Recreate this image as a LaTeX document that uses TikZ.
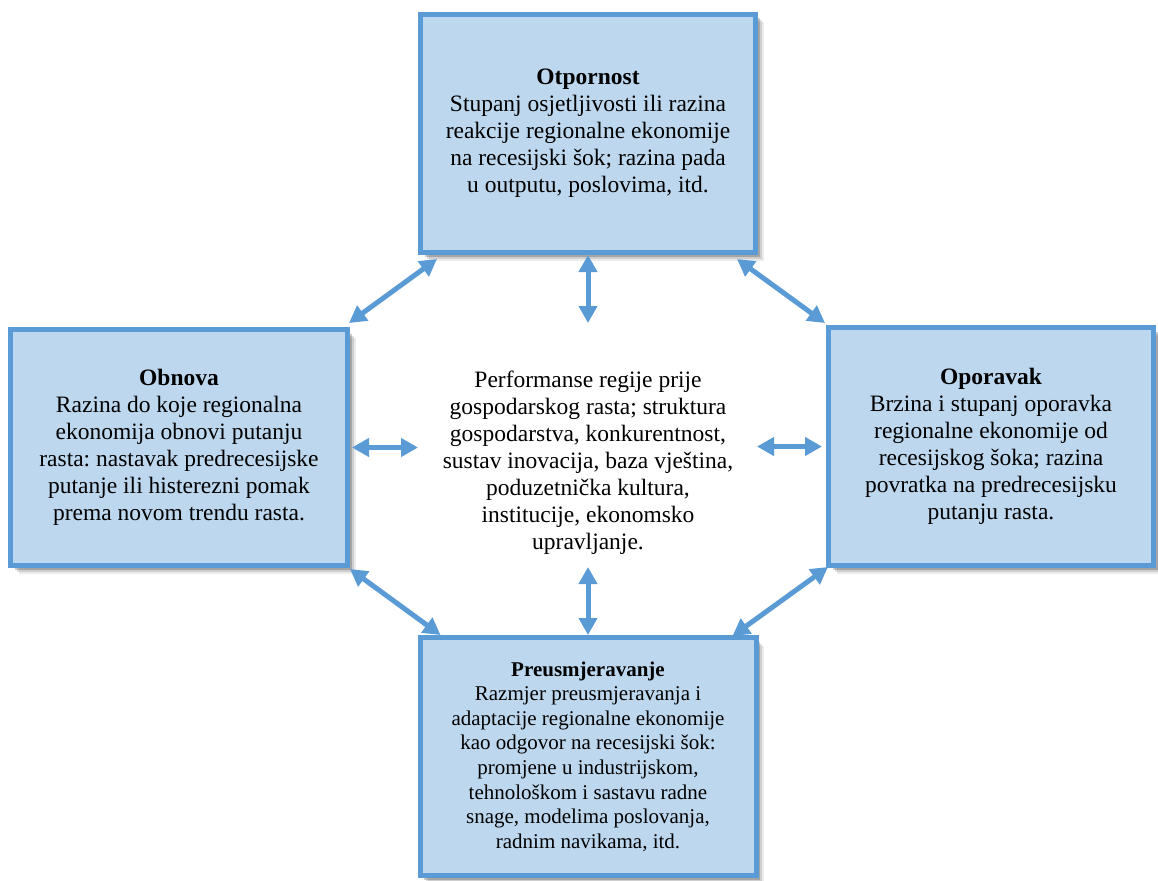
\documentclass[tikz,border=0pt]{standalone}
\usepackage{fontspec}
\setmainfont{Liberation Serif}
\usetikzlibrary{arrows.meta,shadows,calc}
\definecolor{bord}{HTML}{5B9BD5}
\definecolor{boxfill}{HTML}{BDD7EE}
\frenchspacing
\tikzset{
  box/.style={draw=bord, line width=5pt, fill=boxfill, align=center, inner sep=0pt,
    drop shadow={shadow xshift=8pt, shadow yshift=-8pt, opacity=.08, fill=black},
    drop shadow={shadow xshift=6pt, shadow yshift=-6pt, opacity=.12, fill=black},
    drop shadow={shadow xshift=4pt, shadow yshift=-4pt, opacity=.2, fill=black}},
  bigtxt/.style={font=\fontsize{23.5}{27}\selectfont},
  smalltxt/.style={font=\fontsize{21}{24.6}\selectfont},
  arr/.style={draw=bord, line width=5pt, {Triangle[length=17pt,width=18pt]}-{Triangle[length=17pt,width=18pt]}}
}
\begin{document}
\begin{tikzpicture}[x=1pt,y=-1pt]
\useasboundingbox (0,0) rectangle (1158,880);
\node[box, bigtxt, minimum width=335, minimum height=238] (top) at (588,133.5)
  {\textbf{Otpornost}\\Stupanj osjetljivosti ili razina\\reakcije regionalne ekonomije\\na recesijski šok; razina pada\\u outputu, poslovima, itd.};
\node[box, bigtxt, minimum width=337, minimum height=236] (left) at (179,447.5)
  {\textbf{Obnova}\\Razina do koje regionalna\\ekonomija obnovi putanju\\rasta: nastavak predrecesijske\\putanje ili histerezni pomak\\prema novom trendu rasta.};
\node[box, bigtxt, minimum width=325, minimum height=238] (right) at (991,446.5)
  {\textbf{Oporavak}\\Brzina i stupanj oporavka\\regionalne ekonomije od\\recesijskog šoka; razina\\povratka na predrecesijsku\\putanju rasta.};
\node[box, smalltxt, minimum width=336, minimum height=238] (bottom) at (588,756.5)
  {\textbf{Preusmjeravanje}\\Razmjer preusmjeravanja i\\adaptacije regionalne ekonomije\\kao odgovor na recesijski šok:\\promjene u industrijskom,\\tehnološkom i sastavu radne\\snage, modelima poslovanja,\\radnim navikama, itd.};
\node[align=center, font=\fontsize{23.5}{27}\selectfont, inner sep=0pt] (core) at (588,463)
  {Performanse regije prije\\gospodarskog rasta; struktura\\gospodarstva, konkurentnost,\\sustav inovacija, baza vještina,\\poduzetnička kultura,\\institucije, ekonomsko\\upravljanje.};
% vertical and horizontal connectors
\draw[arr] (top.south) -- ($(core.center)+(0,-140)$);
\draw[arr] ($(core.center)+(0,104)$) -- (bottom.north);
\draw[arr] ($(left.east)+(2,0)$) -- ($(core.center)+(-170,-15.5)$);
\draw[arr] ($(core.center)+(169,-16.5)$) -- ($(right.west)+(-4,0)$);
% diagonal connectors
\draw[arr] ($(top.south west)+(19,4)$) -- ($(left.north east)+(-1,-4)$);
\draw[arr] ($(top.south east)+(-21,4)$) -- ($(right.north west)+(-1,-2)$);
\draw[arr] ($(left.south east)+(0,1)$) -- ($(bottom.north west)+(23,0)$);
\draw[arr] ($(right.south west)+(2,-1)$) -- ($(bottom.north east)+(-26,1)$);
\end{tikzpicture}
\end{document}
